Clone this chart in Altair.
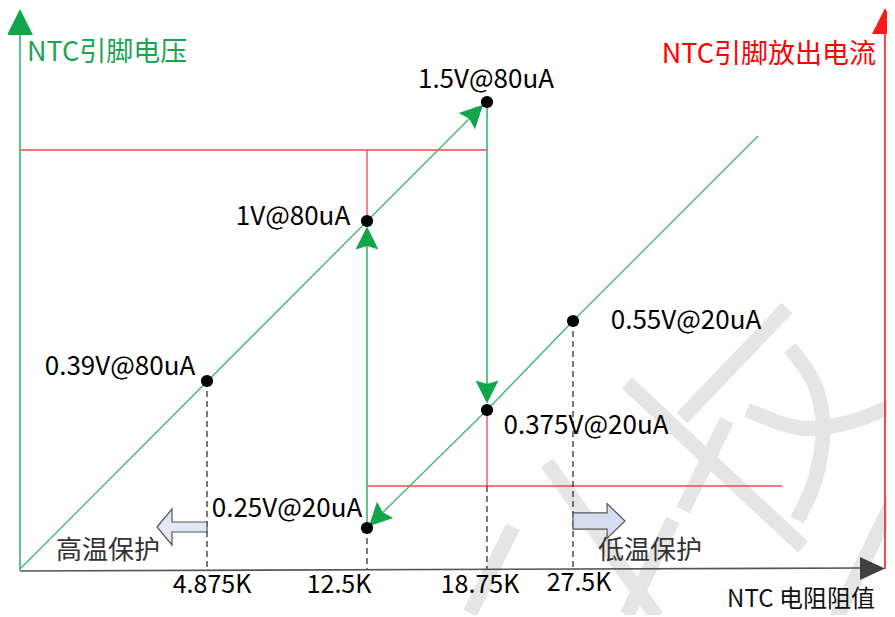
import altair as alt
import pandas as pd

# ---------------- data (diagram units = picture pixels, x to the right, y downward) ----------------
# green signal paths
rise80_x = [20, 484];            rise80_y = [569, 104]
fall20_x = [758, 573, 487, 371]; fall20_y = [136, 321, 410, 524]
jump_up_x = [367, 367];          jump_up_y = [528, 240]
jump_dn_x = [487, 487];          jump_dn_y = [102, 395]
# axes
vaxis_x = [20, 20];      vaxis_y = [571, 30]
iaxis_x = [885, 885];    iaxis_y = [569, 30]
raxis_x = [20, 862];     raxis_y = [571, 568]
# red current guides
red_top_h_x = [20, 487];   red_top_h_y = [150, 150]
red_top_v_x = [367, 367];  red_top_v_y = [150, 221]
red_bot_h_x = [367, 782];  red_bot_h_y = [486, 486]
red_bot_v_x = [487, 487];  red_bot_v_y = [410, 486]
# dashed drop lines
drop_x = [207, 367, 487, 573]
drop_top = [381, 528, 486, 321]
drop_bottom = [569, 569, 569, 569]
# operating points
pt_x = [487, 367, 207, 573, 487, 367]
pt_y = [102, 221, 381, 321, 410, 528]
pt_label = ["1.5V@80uA", "1V@80uA", "0.39V@80uA", "0.55V@20uA", "0.375V@20uA", "0.25V@20uA"]
lab_x = [486, 293, 120, 686, 586, 287]
lab_y = [80, 217, 367, 321, 426, 509]
# resistance ticks
tick_text = ["4.875K", "12.5K", "18.75K", "27.5K"]
tick_x = [212, 339, 480, 579]
tick_y = [585, 585, 585, 583]
# flow arrowheads (centre, rotation)
flow_x = [475, 367, 487, 377]
flow_y = [113, 238, 392, 518]
flow_ang = [45, 0, 180, 225]
# protection labels & block arrows
prot_text = ["高温保护", "低温保护"]
prot_x = [108, 650]
prot_y = [551, 551]
blk_l_x, blk_l_y = 182, 527
blk_r_x, blk_r_y = 599, 521
# titles
vtitle = "NTC引脚电压"
ititle = "NTC引脚放出电流"
rtitle = "NTC 电阻阻值"
# watermark strokes
wm_lines = {
    "a": ([787, 682], [308, 418]),
    "b": ([627, 803], [383, 547]),
    "c": ([727, 683], [420, 510]),
    "d": ([547, 657], [463, 617]),
    "e": ([673, 627], [520, 615]),
    "f": ([895, 837], [497, 617]),
    "g": ([513, 470], [527, 613]),
}
wm_arcs = {
    "p": ([790, 815, 823, 815, 797], [348, 385, 430, 480, 520]),
    "q": ([747, 800, 850, 893], [410, 428, 422, 405]),
}

# ---------------- chart ----------------
W, H = 879, 607
X0, Y0 = 8, 8
xsc = alt.Scale(domain=[X0, X0 + W], nice=False, zero=False)
ysc = alt.Scale(domain=[Y0 + H, Y0], nice=False, zero=False)
FONT = "Noto Sans CJK SC"
GREEN_LINE = "#3bb56c"
GREEN_HEAD = "#12a54a"
RED = "#ff1a1a"


def lines_df(segs):
    rows = []
    for name, (xs, ys) in segs.items():
        for i, (x, y) in enumerate(zip(xs, ys)):
            rows.append({"seg": name, "i": i, "x": x, "y": y})
    return pd.DataFrame(rows)


def line_layer(segs, **mk):
    return alt.Chart(lines_df(segs)).mark_line(**mk).encode(
        x=alt.X("x:Q", scale=xsc, axis=None),
        y=alt.Y("y:Q", scale=ysc, axis=None),
        detail="seg:N",
        order="i:Q",
    )


def sym_layer(df, **mk):
    enc = dict(x=alt.X("x:Q", scale=xsc, axis=None), y=alt.Y("y:Q", scale=ysc, axis=None))
    if "ang" in df:
        enc["angle"] = alt.Angle("ang:Q", scale=None)
    return alt.Chart(df).mark_point(**mk).encode(**enc)


def text_layer(df, **mk):
    return alt.Chart(df).mark_text(font=FONT, **mk).encode(
        x=alt.X("x:Q", scale=xsc, axis=None),
        y=alt.Y("y:Q", scale=ysc, axis=None),
        text="t:N",
    )


layers = []
# watermark
layers.append(line_layer(wm_lines, color="#e5e5e5", strokeWidth=15, strokeCap="butt"))
layers.append(line_layer(wm_arcs, color="#e5e5e5", strokeWidth=15, strokeCap="butt",
                         interpolate="cardinal"))
# red guides
layers.append(line_layer({"th": (red_top_h_x, red_top_h_y), "tv": (red_top_v_x, red_top_v_y),
                          "bh": (red_bot_h_x, red_bot_h_y), "bv": (red_bot_v_x, red_bot_v_y)},
                         color="#f04848", strokeWidth=1.3))
layers.append(line_layer({"ax": (iaxis_x, iaxis_y)}, color=RED, strokeWidth=1.6))
# dashed drop lines
drop = {f"d{k}": ([drop_x[k], drop_x[k]], [drop_top[k], drop_bottom[k]]) for k in range(4)}
layers.append(line_layer(drop, color="#333333", strokeWidth=1.3, strokeDash=[6, 4]))
# x axis
layers.append(line_layer({"ax": (raxis_x, raxis_y)}, color="#555555", strokeWidth=1.6))
# green lines
layers.append(line_layer({"ax": (vaxis_x, vaxis_y)}, color="#5cc489", strokeWidth=2))
layers.append(line_layer({"r": (rise80_x, rise80_y), "f": (fall20_x, fall20_y)},
                         color=GREEN_LINE, strokeWidth=1.3))
layers.append(line_layer({"u": (jump_up_x, jump_up_y), "d": (jump_dn_x, jump_dn_y)},
                         color=GREEN_LINE, strokeWidth=1.6))
# axis arrowheads
TRI = "M0,-1L1,1L-1,1Z"
layers.append(sym_layer(pd.DataFrame({"x": [20], "y": [22]}), shape=TRI, size=676,
                        filled=True, fill=GREEN_HEAD, strokeWidth=0, opacity=1))
layers.append(sym_layer(pd.DataFrame({"x": [885], "y": [21]}), shape=TRI, size=676,
                        filled=True, fill=RED, strokeWidth=0, opacity=1))
layers.append(sym_layer(pd.DataFrame({"x": [872.5], "y": [568.5]}), shape="M1,0L-1,-0.92L-1,0.92Z",
                        size=625, filled=True, fill="#404040", strokeWidth=0, opacity=1))
# flow arrowheads
layers.append(sym_layer(pd.DataFrame({"x": flow_x, "y": flow_y, "ang": flow_ang}),
                        shape="M0,-1L1,1L0,0.7L-1,1Z", size=529, filled=True,
                        fill=GREEN_HEAD, strokeWidth=0, opacity=1))
# block arrows
layers.append(sym_layer(pd.DataFrame({"x": [blk_l_x], "y": [blk_l_y]}),
                        shape="M-1,0L-0.4,-0.72L-0.4,-0.2L1,-0.2L1,0.2L-0.4,0.2L-0.4,0.72Z",
                        size=2500, filled=True, fill="#e2e8f3", stroke="#555555",
                        strokeWidth=1.2, opacity=1))
layers.append(sym_layer(pd.DataFrame({"x": [blk_r_x], "y": [blk_r_y]}),
                        shape="M1,0L0.31,-0.67L0.31,-0.31L-1,-0.31L-1,0.31L0.31,0.31L0.31,0.67Z",
                        size=2704, filled=True, fill="#d3ddee", stroke="#555555",
                        strokeWidth=1.2, opacity=1))
# points
layers.append(sym_layer(pd.DataFrame({"x": pt_x, "y": pt_y}), shape="circle", size=150,
                        filled=True, fill="#000000", strokeWidth=0, opacity=1))
# texts
layers.append(text_layer(pd.DataFrame({"x": lab_x, "y": lab_y, "t": pt_label}),
                         fontSize=26, color="#000000", align="center", baseline="middle"))
layers.append(text_layer(pd.DataFrame({"x": tick_x, "y": tick_y, "t": tick_text}),
                         fontSize=25, color="#000000", align="center", baseline="middle"))
layers.append(text_layer(pd.DataFrame({"x": prot_x, "y": prot_y, "t": prot_text}),
                         fontSize=26, color="#333333", align="center", baseline="middle"))
layers.append(text_layer(pd.DataFrame({"x": [27], "y": [53], "t": [vtitle]}),
                         fontSize=27, color="#1aa552", align="left", baseline="middle"))
layers.append(text_layer(pd.DataFrame({"x": [876], "y": [55], "t": [ititle]}),
                         fontSize=27, color="#ff0000", align="right", baseline="middle"))
layers.append(text_layer(pd.DataFrame({"x": [801], "y": [600], "t": [rtitle]}),
                         fontSize=24, color="#111111", align="center", baseline="middle"))

chart = alt.layer(*layers).properties(
    width=W, height=H, padding=0, autosize="none", background="#ffffff"
).configure_view(stroke=None)

chart.save("out.html", embed_options={"renderer": "svg", "actions": False})
